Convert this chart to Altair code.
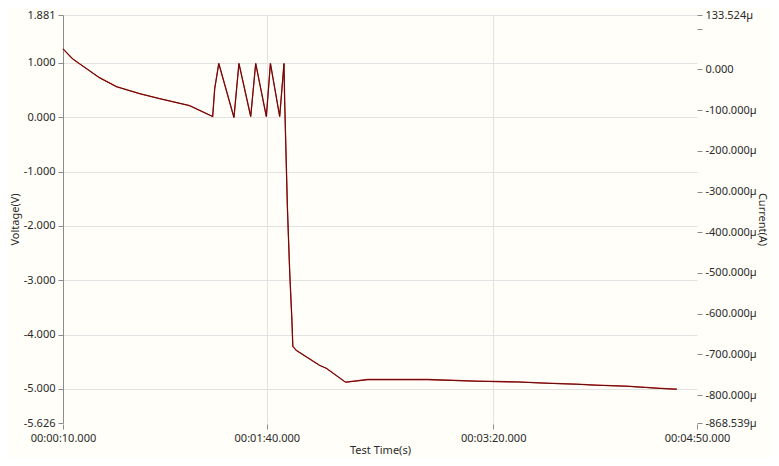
import altair as alt
import pandas as pd

time_s = [10.0, 14.2, 17.3, 21.7, 26.1, 33.6, 43.8, 52.6, 65.9, 76.1, 77.0, 78.8,
          85.5, 87.7, 92.9, 95.1, 99.8, 101.6, 105.7, 107.6, 107.9, 109.1, 110.1,
          111.1, 111.5, 113.0, 123.3, 126.3, 134.8, 144.6, 171.1, 193.2, 210.8,
          223.7, 236.9, 245.8, 259.0, 274.5, 281.1]
voltage_v = [1.258, 1.075, 0.984, 0.855, 0.727, 0.562, 0.434, 0.343, 0.214, 0.013,
             0.526, 0.989, -0.005, 0.989, 0.013, 0.989, 0.013, 0.989, 0.013, 0.989,
             0.288, -1.654, -2.826, -3.742, -4.218, -4.291, -4.566, -4.621, -4.877,
             -4.828, -4.828, -4.859, -4.872, -4.896, -4.914, -4.932, -4.951, -4.993,
             -5.006]
current_ua = [50.4, 26.0, 13.8, -3.3, -20.4, -42.4, -59.5, -71.8, -88.9, -115.8,
              -47.3, 14.5, -118.2, 14.5, -115.8, 14.5, -115.8, 14.5, -115.8, 14.5,
              -79.1, -338.2, -494.6, -616.8, -680.3, -690.1, -726.8, -734.1, -768.3,
              -761.7, -761.7, -765.9, -767.6, -770.8, -773.2, -775.6, -778.1, -783.7,
              -785.4]

x_ticks = [10, 100, 200, 290]
v_ticks = [1.881, 1.0, 0.0, -1.0, -2.0, -3.0, -4.0, -5.0, -5.626]
i_ticks = [133.524, 100, 0, -100, -200, -300, -400, -500, -600, -700, -800, -868.539]

df = pd.DataFrame({"t": time_s, "V": voltage_v, "I": current_ua})

FONT = "Noto Sans"
TXT = "#2a2a2a"
AX = "#8c8c8c"

time_expr = ("'00:' + (floor(datum.value/60) < 10 ? '0' : '') + floor(datum.value/60) + ':' + "
             "(datum.value % 60 < 10 ? '0' : '') + (datum.value % 60) + '.000'")

x_enc = alt.X(
    "t:Q",
    scale=alt.Scale(domain=[10, 290], nice=False, zero=False),
    axis=alt.Axis(
        values=x_ticks, labelExpr=time_expr, title="Test Time(s)",
        domain=False, tickSize=5, offset=1, labelPadding=3, titlePadding=1,
        grid=True, gridColor="#e2e2e2",
        gridOpacity={"condition": {"test": "datum.value == 10 || datum.value == 290", "value": 0}, "value": 1},
        labelFlush=False, labelOverlap=False,
    ),
)

cur = alt.Chart(df).mark_line(color="#c21a1a", strokeWidth=1.3).encode(
    x=x_enc,
    y=alt.Y(
        "I:Q",
        scale=alt.Scale(domain=[-868.539, 133.524], nice=False, zero=False),
        axis=alt.Axis(
            orient="right", values=i_ticks, title="Current(A)",
            labelExpr="datum.value == 0 ? '0.000' : (datum.value == 100 ? '' : "
                      "(datum.value < 0 ? '-' : '') + format(abs(datum.value), '.3f') + 'µ')",
            domain=False, grid=False, tickSize=5, labelPadding=3, titlePadding=0,
            labelOverlap=False, labelFlush=False,
        ),
    ),
)

volt = alt.Chart(df).mark_line(color="#5a0a0a", strokeWidth=0.9).encode(
    x=x_enc,
    y=alt.Y(
        "V:Q",
        scale=alt.Scale(domain=[-5.626, 1.881], nice=False, zero=False),
        axis=alt.Axis(
            orient="left", values=v_ticks, title="Voltage(V)",
            labelExpr="(datum.value < 0 ? '-' : '') + format(abs(datum.value), '.3f')",
            domain=True, domainColor=AX, grid=True, gridColor="#e2e2e2",
            gridOpacity={"condition": {"test": "datum.value < -5.5", "value": 0}, "value": 1},
            tickSize=5, labelPadding=3, titlePadding=3,
            labelOverlap=False, labelFlush=False,
        ),
    ),
)

chart = alt.layer(cur, volt).resolve_scale(y="independent").properties(
    width=634, height=408,
    autosize=alt.AutoSizeParams(type="none"),
    padding={"left": 55, "top": 7, "right": 74, "bottom": 35},
    background="#fffef8",
).configure_view(stroke=None).configure_axis(
    labelFont=FONT, titleFont=FONT, labelFontSize=11, titleFontSize=11,
    titleFontWeight="normal", labelColor=TXT, titleColor=TXT,
    tickColor=AX, domainColor=AX,
)

chart.save("out.html", embed_options={"renderer": "svg", "actions": False})
